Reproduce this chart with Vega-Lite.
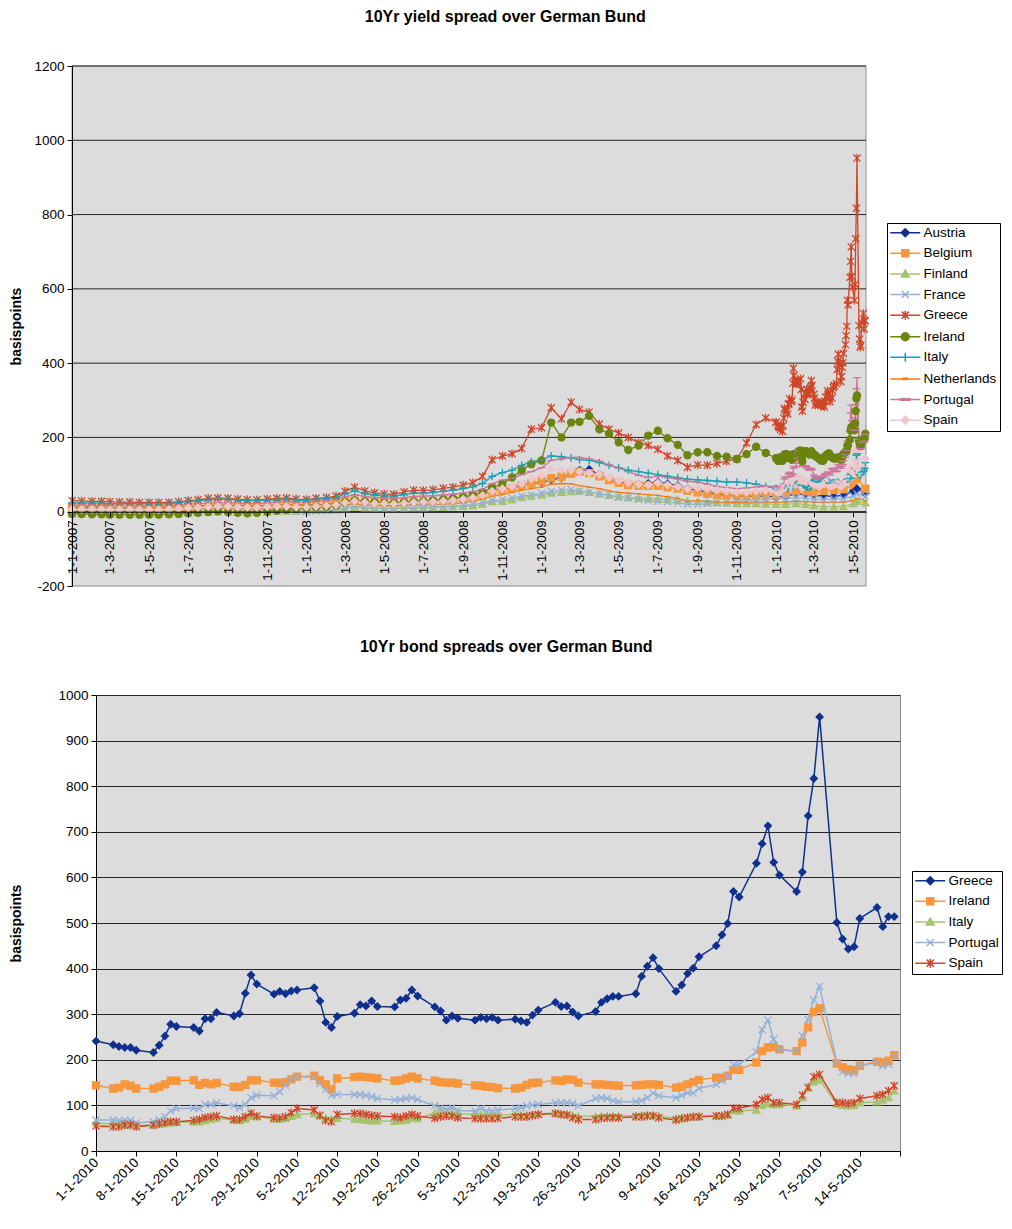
{
  "$schema": "https://vega.github.io/schema/vega-lite/v6.json",
  "background": "white",
  "padding": {"left": 9, "top": 9, "right": 5, "bottom": 0},
  "config": {
    "font": "Liberation Sans",
    "view": {"fill": "#dcdcdc", "stroke": "#8c8c8c", "strokeWidth": 1},
    "axis": {"labelFont": "Liberation Sans", "labelFontSize": 13.5, "labelColor": "#000", "titleFont": "Liberation Sans", "titleFontSize": 14, "titleFontWeight": "bold", "titleColor": "#000", "domainColor": "#000", "tickColor": "#000", "gridColor": "#262626", "gridOpacity": 1, "domainWidth": 1, "tickWidth": 1},
    "axisX": {"labelOverlap": false},
    "title": {"font": "Liberation Sans", "fontSize": 16, "fontWeight": "bold", "color": "#000", "anchor": "middle", "frame": "bounds"},
    "legend": {"symbolSize": 100, "symbolStrokeWidth": 1.5, "symbolOpacity": 1, "symbolOffset": 8.5, "labelOffset": 11.5, "labelFontSize": 13.5, "labelFont": "Liberation Sans", "labelColor": "#000", "rowPadding": 5.6, "padding": 3, "strokeColor": "#000", "fillColor": "#fff", "cornerRadius": 0}
  },
  "datasets": {
    "topNames": [{"country": "Austria"}, {"country": "Belgium"}, {"country": "Finland"}, {"country": "France"}, {"country": "Greece"}, {"country": "Ireland"}, {"country": "Italy"}, {"country": "Netherlands"}, {"country": "Portugal"}, {"country": "Spain"}],
    "botNames": [{"country": "Greece"}, {"country": "Ireland"}, {"country": "Italy"}, {"country": "Portugal"}, {"country": "Spain"}],
    "topGrid": [{"g": 0}, {"g": 200}, {"g": 400}, {"g": 600}, {"g": 800}, {"g": 1000}, {"g": 1200}],
    "top": [
      {"d":"2007-01-01","Austria":12,"Belgium":10,"Finland":-5,"France":4,"Greece":30,"Ireland":-6,"Italy":24,"Netherlands":8,"Portugal":18,"Spain":6},
      {"d":"2007-01-16","Austria":12,"Belgium":10,"Finland":-5,"France":4,"Greece":29,"Ireland":-6,"Italy":24,"Netherlands":8,"Portugal":18,"Spain":6},
      {"d":"2007-02-01","Austria":12,"Belgium":10,"Finland":-5,"France":4,"Greece":28,"Ireland":-7,"Italy":23,"Netherlands":8,"Portugal":17,"Spain":6},
      {"d":"2007-02-16","Austria":12,"Belgium":10,"Finland":-5,"France":4,"Greece":28,"Ireland":-7,"Italy":23,"Netherlands":8,"Portugal":17,"Spain":6},
      {"d":"2007-03-01","Austria":11,"Belgium":10,"Finland":-6,"France":3,"Greece":27,"Ireland":-8,"Italy":22,"Netherlands":7,"Portugal":17,"Spain":5},
      {"d":"2007-03-16","Austria":11,"Belgium":10,"Finland":-6,"France":3,"Greece":26,"Ireland":-8,"Italy":22,"Netherlands":7,"Portugal":17,"Spain":5},
      {"d":"2007-04-01","Austria":11,"Belgium":10,"Finland":-6,"France":3,"Greece":26,"Ireland":-8,"Italy":22,"Netherlands":7,"Portugal":16,"Spain":5},
      {"d":"2007-04-16","Austria":11,"Belgium":10,"Finland":-6,"France":3,"Greece":25,"Ireland":-8,"Italy":22,"Netherlands":7,"Portugal":16,"Spain":5},
      {"d":"2007-05-01","Austria":11,"Belgium":10,"Finland":-6,"France":3,"Greece":25,"Ireland":-8,"Italy":21,"Netherlands":7,"Portugal":16,"Spain":5},
      {"d":"2007-05-16","Austria":11,"Belgium":10,"Finland":-6,"France":3,"Greece":25,"Ireland":-8,"Italy":21,"Netherlands":7,"Portugal":16,"Spain":5},
      {"d":"2007-06-01","Austria":11,"Belgium":10,"Finland":-5,"France":3,"Greece":25,"Ireland":-7,"Italy":22,"Netherlands":7,"Portugal":16,"Spain":6},
      {"d":"2007-06-16","Austria":12,"Belgium":11,"Finland":-4,"France":4,"Greece":27,"Ireland":-6,"Italy":24,"Netherlands":8,"Portugal":18,"Spain":8},
      {"d":"2007-07-01","Austria":13,"Belgium":12,"Finland":-3,"France":5,"Greece":30,"Ireland":-4,"Italy":27,"Netherlands":9,"Portugal":20,"Spain":10},
      {"d":"2007-07-16","Austria":14,"Belgium":13,"Finland":-2,"France":6,"Greece":32,"Ireland":-3,"Italy":29,"Netherlands":10,"Portugal":21,"Spain":11},
      {"d":"2007-08-01","Austria":16,"Belgium":14,"Finland":-1,"France":7,"Greece":36,"Ireland":-1,"Italy":32,"Netherlands":11,"Portugal":23,"Spain":13},
      {"d":"2007-08-16","Austria":17,"Belgium":15,"Finland":0,"France":7,"Greece":37,"Ireland":1,"Italy":33,"Netherlands":11,"Portugal":24,"Spain":14},
      {"d":"2007-09-01","Austria":17,"Belgium":15,"Finland":0,"France":7,"Greece":36,"Ireland":-1,"Italy":33,"Netherlands":11,"Portugal":24,"Spain":14},
      {"d":"2007-09-16","Austria":16,"Belgium":15,"Finland":-1,"France":6,"Greece":34,"Ireland":-3,"Italy":31,"Netherlands":11,"Portugal":23,"Spain":12},
      {"d":"2007-10-01","Austria":15,"Belgium":14,"Finland":-2,"France":6,"Greece":32,"Ireland":-4,"Italy":30,"Netherlands":10,"Portugal":22,"Spain":11},
      {"d":"2007-10-16","Austria":15,"Belgium":14,"Finland":-1,"France":6,"Greece":32,"Ireland":-3,"Italy":30,"Netherlands":10,"Portugal":22,"Spain":11},
      {"d":"2007-11-01","Austria":16,"Belgium":15,"Finland":0,"France":6,"Greece":34,"Ireland":0,"Italy":31,"Netherlands":11,"Portugal":24,"Spain":13},
      {"d":"2007-11-16","Austria":17,"Belgium":16,"Finland":1,"France":5,"Greece":36,"Ireland":3,"Italy":32,"Netherlands":12,"Portugal":26,"Spain":14},
      {"d":"2007-12-01","Austria":18,"Belgium":17,"Finland":2,"France":3,"Greece":37,"Ireland":6,"Italy":33,"Netherlands":12,"Portugal":27,"Spain":14},
      {"d":"2007-12-16","Austria":18,"Belgium":17,"Finland":2,"France":1,"Greece":34,"Ireland":8,"Italy":31,"Netherlands":11,"Portugal":26,"Spain":12},
      {"d":"2008-01-01","Austria":18,"Belgium":17,"Finland":3,"France":0,"Greece":33,"Ireland":10,"Italy":30,"Netherlands":12,"Portugal":26,"Spain":12},
      {"d":"2008-01-16","Austria":19,"Belgium":18,"Finland":4,"France":1,"Greece":36,"Ireland":12,"Italy":33,"Netherlands":13,"Portugal":28,"Spain":14},
      {"d":"2008-02-01","Austria":20,"Belgium":19,"Finland":5,"France":2,"Greece":38,"Ireland":14,"Italy":35,"Netherlands":14,"Portugal":30,"Spain":16},
      {"d":"2008-02-16","Austria":22,"Belgium":21,"Finland":6,"France":4,"Greece":42,"Ireland":17,"Italy":38,"Netherlands":15,"Portugal":33,"Spain":18},
      {"d":"2008-03-01","Austria":28,"Belgium":27,"Finland":10,"France":10,"Greece":55,"Ireland":25,"Italy":48,"Netherlands":18,"Portugal":40,"Spain":24},
      {"d":"2008-03-16","Austria":32,"Belgium":30,"Finland":12,"France":14,"Greece":66,"Ireland":30,"Italy":56,"Netherlands":20,"Portugal":46,"Spain":28},
      {"d":"2008-04-01","Austria":28,"Belgium":27,"Finland":10,"France":12,"Greece":56,"Ireland":27,"Italy":49,"Netherlands":18,"Portugal":41,"Spain":25},
      {"d":"2008-04-16","Austria":26,"Belgium":25,"Finland":9,"France":10,"Greece":51,"Ireland":25,"Italy":45,"Netherlands":17,"Portugal":38,"Spain":22},
      {"d":"2008-05-01","Austria":25,"Belgium":24,"Finland":9,"France":9,"Greece":48,"Ireland":24,"Italy":43,"Netherlands":16,"Portugal":37,"Spain":22},
      {"d":"2008-05-16","Austria":24,"Belgium":23,"Finland":8,"France":9,"Greece":47,"Ireland":23,"Italy":42,"Netherlands":16,"Portugal":36,"Spain":21},
      {"d":"2008-06-01","Austria":26,"Belgium":25,"Finland":9,"France":10,"Greece":53,"Ireland":25,"Italy":46,"Netherlands":17,"Portugal":38,"Spain":23},
      {"d":"2008-06-16","Austria":28,"Belgium":27,"Finland":10,"France":12,"Greece":58,"Ireland":27,"Italy":50,"Netherlands":18,"Portugal":41,"Spain":25},
      {"d":"2008-07-01","Austria":28,"Belgium":27,"Finland":10,"France":12,"Greece":57,"Ireland":28,"Italy":50,"Netherlands":18,"Portugal":42,"Spain":26},
      {"d":"2008-07-16","Austria":29,"Belgium":28,"Finland":11,"France":13,"Greece":59,"Ireland":30,"Italy":52,"Netherlands":19,"Portugal":43,"Spain":27},
      {"d":"2008-08-01","Austria":31,"Belgium":30,"Finland":12,"France":14,"Greece":63,"Ireland":33,"Italy":55,"Netherlands":20,"Portugal":45,"Spain":29},
      {"d":"2008-08-16","Austria":32,"Belgium":31,"Finland":13,"France":15,"Greece":66,"Ireland":36,"Italy":58,"Netherlands":22,"Portugal":47,"Spain":31},
      {"d":"2008-09-01","Austria":34,"Belgium":33,"Finland":14,"France":17,"Greece":72,"Ireland":40,"Italy":62,"Netherlands":25,"Portugal":50,"Spain":34},
      {"d":"2008-09-16","Austria":38,"Belgium":37,"Finland":16,"France":20,"Greece":78,"Ireland":45,"Italy":67,"Netherlands":29,"Portugal":54,"Spain":38},
      {"d":"2008-10-01","Austria":45,"Belgium":44,"Finland":20,"France":24,"Greece":95,"Ireland":52,"Italy":76,"Netherlands":34,"Portugal":60,"Spain":44},
      {"d":"2008-10-16","Austria":58,"Belgium":55,"Finland":27,"France":30,"Greece":140,"Ireland":65,"Italy":95,"Netherlands":42,"Portugal":75,"Spain":55},
      {"d":"2008-11-01","Austria":62,"Belgium":58,"Finland":28,"France":32,"Greece":150,"Ireland":75,"Italy":105,"Netherlands":46,"Portugal":85,"Spain":62},
      {"d":"2008-11-16","Austria":66,"Belgium":62,"Finland":32,"France":36,"Greece":156,"Ireland":92,"Italy":112,"Netherlands":52,"Portugal":90,"Spain":68},
      {"d":"2008-12-01","Austria":72,"Belgium":70,"Finland":38,"France":42,"Greece":170,"Ireland":112,"Italy":125,"Netherlands":58,"Portugal":100,"Spain":75},
      {"d":"2008-12-16","Austria":76,"Belgium":76,"Finland":42,"France":46,"Greece":222,"Ireland":128,"Italy":135,"Netherlands":62,"Portugal":108,"Spain":88},
      {"d":"2009-01-01","Austria":80,"Belgium":82,"Finland":45,"France":50,"Greece":226,"Ireland":138,"Italy":140,"Netherlands":66,"Portugal":118,"Spain":98},
      {"d":"2009-01-16","Austria":86,"Belgium":90,"Finland":50,"France":55,"Greece":280,"Ireland":240,"Italy":150,"Netherlands":74,"Portugal":138,"Spain":115},
      {"d":"2009-02-01","Austria":92,"Belgium":94,"Finland":52,"France":58,"Greece":250,"Ireland":200,"Italy":148,"Netherlands":76,"Portugal":142,"Spain":112},
      {"d":"2009-02-16","Austria":102,"Belgium":102,"Finland":54,"France":60,"Greece":295,"Ireland":240,"Italy":145,"Netherlands":75,"Portugal":146,"Spain":112},
      {"d":"2009-03-01","Austria":112,"Belgium":108,"Finland":55,"France":55,"Greece":275,"Ireland":242,"Italy":140,"Netherlands":70,"Portugal":146,"Spain":108},
      {"d":"2009-03-16","Austria":114,"Belgium":104,"Finland":52,"France":52,"Greece":268,"Ireland":258,"Italy":138,"Netherlands":66,"Portugal":142,"Spain":104},
      {"d":"2009-04-01","Austria":100,"Belgium":95,"Finland":48,"France":48,"Greece":236,"Ireland":222,"Italy":132,"Netherlands":62,"Portugal":136,"Spain":100},
      {"d":"2009-04-16","Austria":90,"Belgium":85,"Finland":44,"France":44,"Greece":222,"Ireland":210,"Italy":125,"Netherlands":56,"Portugal":126,"Spain":92},
      {"d":"2009-05-01","Austria":82,"Belgium":78,"Finland":40,"France":40,"Greece":212,"Ireland":187,"Italy":118,"Netherlands":52,"Portugal":118,"Spain":84},
      {"d":"2009-05-16","Austria":76,"Belgium":72,"Finland":38,"France":37,"Greece":200,"Ireland":166,"Italy":112,"Netherlands":50,"Portugal":108,"Spain":78},
      {"d":"2009-06-01","Austria":74,"Belgium":70,"Finland":36,"France":33,"Greece":186,"Ireland":178,"Italy":108,"Netherlands":48,"Portugal":98,"Spain":74},
      {"d":"2009-06-16","Austria":76,"Belgium":70,"Finland":35,"France":30,"Greece":178,"Ireland":205,"Italy":104,"Netherlands":46,"Portugal":92,"Spain":72},
      {"d":"2009-07-01","Austria":80,"Belgium":70,"Finland":34,"France":28,"Greece":168,"Ireland":218,"Italy":100,"Netherlands":44,"Portugal":96,"Spain":78},
      {"d":"2009-07-16","Austria":75,"Belgium":66,"Finland":33,"France":26,"Greece":150,"Ireland":198,"Italy":96,"Netherlands":40,"Portugal":92,"Spain":72},
      {"d":"2009-08-01","Austria":70,"Belgium":62,"Finland":32,"France":24,"Greece":138,"Ireland":180,"Italy":92,"Netherlands":36,"Portugal":88,"Spain":68},
      {"d":"2009-08-16","Austria":62,"Belgium":56,"Finland":30,"France":20,"Greece":120,"Ireland":152,"Italy":88,"Netherlands":28,"Portugal":82,"Spain":62},
      {"d":"2009-09-01","Austria":58,"Belgium":52,"Finland":28,"France":20,"Greece":126,"Ireland":160,"Italy":86,"Netherlands":30,"Portugal":80,"Spain":64},
      {"d":"2009-09-16","Austria":52,"Belgium":48,"Finland":26,"France":22,"Greece":125,"Ireland":160,"Italy":84,"Netherlands":28,"Portugal":74,"Spain":62},
      {"d":"2009-10-01","Austria":48,"Belgium":45,"Finland":25,"France":24,"Greece":130,"Ireland":150,"Italy":82,"Netherlands":26,"Portugal":68,"Spain":58},
      {"d":"2009-10-16","Austria":45,"Belgium":44,"Finland":24,"France":26,"Greece":136,"Ireland":148,"Italy":80,"Netherlands":25,"Portugal":65,"Spain":55},
      {"d":"2009-11-01","Austria":42,"Belgium":42,"Finland":22,"France":28,"Greece":142,"Ireland":142,"Italy":80,"Netherlands":25,"Portugal":62,"Spain":52},
      {"d":"2009-11-16","Austria":42,"Belgium":42,"Finland":22,"France":30,"Greece":185,"Ireland":155,"Italy":78,"Netherlands":25,"Portugal":64,"Spain":52},
      {"d":"2009-12-01","Austria":42,"Belgium":44,"Finland":22,"France":32,"Greece":235,"Ireland":175,"Italy":74,"Netherlands":26,"Portugal":66,"Spain":55},
      {"d":"2009-12-16","Austria":42,"Belgium":46,"Finland":21,"France":34,"Greece":252,"Ireland":158,"Italy":68,"Netherlands":26,"Portugal":68,"Spain":57},
      {"d":"2010-01-01","Austria":40,"Belgium":45,"Finland":20,"France":34,"Greece":241,"Ireland":144,"Italy":62,"Netherlands":25,"Portugal":68,"Spain":55},
      {"d":"2010-01-16","Austria":42,"Belgium":48,"Finland":20,"France":35,"Netherlands":26},
      {"d":"2010-02-01","Austria":48,"Belgium":55,"Finland":22,"France":38,"Netherlands":28},
      {"d":"2010-02-16","Austria":46,"Belgium":55,"Finland":20,"France":36,"Netherlands":27},
      {"d":"2010-03-01","Austria":44,"Belgium":52,"Finland":16,"France":34,"Netherlands":26},
      {"d":"2010-03-16","Austria":42,"Belgium":56,"Finland":13,"France":33,"Netherlands":25},
      {"d":"2010-04-01","Austria":42,"Belgium":58,"Finland":13,"France":34,"Netherlands":25},
      {"d":"2010-04-16","Austria":44,"Belgium":60,"Finland":14,"France":35,"Netherlands":26},
      {"d":"2010-05-01","Austria":55,"Belgium":72,"Finland":22,"France":42,"Netherlands":30},
      {"d":"2010-05-07","Austria":62,"Belgium":88,"Finland":28,"France":48,"Netherlands":35},
      {"d":"2010-05-20","Austria":50,"Belgium":62,"Finland":24,"France":42,"Netherlands":30}
    ],
    "bot": [
      {"d":"2010-01-01","Greece":241,"Ireland":144,"Italy":62,"Portugal":68,"Spain":55},
      {"d":"2010-01-04","Greece":233,"Ireland":137,"Italy":58,"Portugal":68,"Spain":53},
      {"d":"2010-01-05","Greece":229,"Ireland":139,"Italy":58,"Portugal":67,"Spain":53},
      {"d":"2010-01-06","Greece":227,"Ireland":146,"Italy":57,"Portugal":67,"Spain":57},
      {"d":"2010-01-07","Greece":227,"Ireland":143,"Italy":58,"Portugal":67,"Spain":57},
      {"d":"2010-01-08","Greece":221,"Ireland":137,"Italy":56,"Portugal":62,"Spain":53},
      {"d":"2010-01-11","Greece":216,"Ireland":137,"Italy":57,"Portugal":64,"Spain":57},
      {"d":"2010-01-12","Greece":232,"Ireland":141,"Italy":59,"Portugal":68,"Spain":60},
      {"d":"2010-01-13","Greece":252,"Ireland":146,"Italy":60,"Portugal":75,"Spain":62},
      {"d":"2010-01-14","Greece":278,"Ireland":154,"Italy":62,"Portugal":88,"Spain":64},
      {"d":"2010-01-15","Greece":273,"Ireland":154,"Italy":63,"Portugal":93,"Spain":64},
      {"d":"2010-01-18","Greece":271,"Ireland":155,"Italy":64,"Portugal":94,"Spain":67},
      {"d":"2010-01-19","Greece":263,"Ireland":145,"Italy":64,"Portugal":93,"Spain":69},
      {"d":"2010-01-20","Greece":290,"Ireland":149,"Italy":67,"Portugal":102,"Spain":73},
      {"d":"2010-01-21","Greece":290,"Ireland":146,"Italy":70,"Portugal":102,"Spain":75},
      {"d":"2010-01-22","Greece":304,"Ireland":149,"Italy":72,"Portugal":106,"Spain":77},
      {"d":"2010-01-25","Greece":296,"Ireland":141,"Italy":68,"Portugal":99,"Spain":69},
      {"d":"2010-01-26","Greece":301,"Ireland":140,"Italy":67,"Portugal":95,"Spain":69},
      {"d":"2010-01-27","Greece":346,"Ireland":145,"Italy":70,"Portugal":102,"Spain":75},
      {"d":"2010-01-28","Greece":386,"Ireland":155,"Italy":76,"Portugal":117,"Spain":83},
      {"d":"2010-01-29","Greece":366,"Ireland":155,"Italy":75,"Portugal":122,"Spain":77},
      {"d":"2010-02-01","Greece":344,"Ireland":150,"Italy":70,"Portugal":121,"Spain":73},
      {"d":"2010-02-02","Greece":350,"Ireland":149,"Italy":70,"Portugal":130,"Spain":72},
      {"d":"2010-02-03","Greece":345,"Ireland":151,"Italy":72,"Portugal":144,"Spain":75},
      {"d":"2010-02-04","Greece":351,"Ireland":157,"Italy":76,"Portugal":157,"Spain":84},
      {"d":"2010-02-05","Greece":353,"Ireland":163,"Italy":80,"Portugal":163,"Spain":93},
      {"d":"2010-02-08","Greece":358,"Ireland":165,"Italy":82,"Portugal":162,"Spain":90},
      {"d":"2010-02-09","Greece":329,"Ireland":156,"Italy":78,"Portugal":148,"Spain":78},
      {"d":"2010-02-10","Greece":282,"Ireland":146,"Italy":72,"Portugal":135,"Spain":67},
      {"d":"2010-02-11","Greece":271,"Ireland":135,"Italy":70,"Portugal":122,"Spain":64},
      {"d":"2010-02-12","Greece":295,"Ireland":159,"Italy":72,"Portugal":124,"Spain":80},
      {"d":"2010-02-15","Greece":302,"Ireland":162,"Italy":70,"Portugal":124,"Spain":82},
      {"d":"2010-02-16","Greece":321,"Ireland":163,"Italy":69,"Portugal":124,"Spain":82},
      {"d":"2010-02-17","Greece":318,"Ireland":162,"Italy":68,"Portugal":122,"Spain":80},
      {"d":"2010-02-18","Greece":329,"Ireland":161,"Italy":66,"Portugal":119,"Spain":78},
      {"d":"2010-02-19","Greece":317,"Ireland":159,"Italy":66,"Portugal":115,"Spain":77},
      {"d":"2010-02-22","Greece":316,"Ireland":154,"Italy":65,"Portugal":112,"Spain":75},
      {"d":"2010-02-23","Greece":331,"Ireland":155,"Italy":66,"Portugal":113,"Spain":73},
      {"d":"2010-02-24","Greece":335,"Ireland":159,"Italy":68,"Portugal":115,"Spain":77},
      {"d":"2010-02-25","Greece":353,"Ireland":163,"Italy":72,"Portugal":117,"Spain":80},
      {"d":"2010-02-26","Greece":340,"Ireland":159,"Italy":71,"Portugal":113,"Spain":77},
      {"d":"2010-03-01","Greece":316,"Ireland":154,"Italy":84,"Portugal":99,"Spain":72},
      {"d":"2010-03-02","Greece":307,"Ireland":151,"Italy":86,"Portugal":95,"Spain":75},
      {"d":"2010-03-03","Greece":287,"Ireland":150,"Italy":85,"Portugal":91,"Spain":77},
      {"d":"2010-03-04","Greece":296,"Ireland":150,"Italy":84,"Portugal":95,"Spain":77},
      {"d":"2010-03-05","Greece":291,"Ireland":148,"Italy":82,"Portugal":89,"Spain":73},
      {"d":"2010-03-08","Greece":287,"Ireland":144,"Italy":80,"Portugal":88,"Spain":71},
      {"d":"2010-03-09","Greece":293,"Ireland":143,"Italy":80,"Portugal":93,"Spain":71},
      {"d":"2010-03-10","Greece":290,"Ireland":141,"Italy":79,"Portugal":88,"Spain":71},
      {"d":"2010-03-11","Greece":293,"Ireland":140,"Italy":80,"Portugal":88,"Spain":71},
      {"d":"2010-03-12","Greece":287,"Ireland":138,"Italy":79,"Portugal":90,"Spain":72},
      {"d":"2010-03-15","Greece":289,"Ireland":137,"Italy":80,"Portugal":93,"Spain":75},
      {"d":"2010-03-16","Greece":285,"Ireland":139,"Italy":80,"Portugal":95,"Spain":75},
      {"d":"2010-03-17","Greece":282,"Ireland":145,"Italy":80,"Portugal":99,"Spain":75},
      {"d":"2010-03-18","Greece":298,"Ireland":149,"Italy":81,"Portugal":101,"Spain":78},
      {"d":"2010-03-19","Greece":309,"Ireland":150,"Italy":82,"Portugal":102,"Spain":80},
      {"d":"2010-03-22","Greece":326,"Ireland":155,"Italy":83,"Portugal":106,"Spain":82},
      {"d":"2010-03-23","Greece":317,"Ireland":154,"Italy":82,"Portugal":106,"Spain":80},
      {"d":"2010-03-24","Greece":318,"Ireland":157,"Italy":80,"Portugal":106,"Spain":79},
      {"d":"2010-03-25","Greece":305,"Ireland":156,"Italy":78,"Portugal":104,"Spain":73},
      {"d":"2010-03-26","Greece":296,"Ireland":150,"Italy":76,"Portugal":99,"Spain":69},
      {"d":"2010-03-29","Greece":306,"Ireland":146,"Italy":76,"Portugal":115,"Spain":69},
      {"d":"2010-03-30","Greece":326,"Ireland":146,"Italy":77,"Portugal":117,"Spain":72},
      {"d":"2010-03-31","Greece":334,"Ireland":145,"Italy":77,"Portugal":115,"Spain":73},
      {"d":"2010-04-01","Greece":339,"Ireland":144,"Italy":77,"Portugal":110,"Spain":73},
      {"d":"2010-04-02","Greece":339,"Ireland":143,"Italy":77,"Portugal":108,"Spain":73},
      {"d":"2010-04-05","Greece":345,"Ireland":144,"Italy":78,"Portugal":108,"Spain":75},
      {"d":"2010-04-06","Greece":383,"Ireland":145,"Italy":78,"Portugal":110,"Spain":75},
      {"d":"2010-04-07","Greece":405,"Ireland":146,"Italy":79,"Portugal":117,"Spain":77},
      {"d":"2010-04-08","Greece":424,"Ireland":146,"Italy":79,"Portugal":127,"Spain":77},
      {"d":"2010-04-09","Greece":400,"Ireland":145,"Italy":77,"Portugal":121,"Spain":73},
      {"d":"2010-04-12","Greece":350,"Ireland":139,"Italy":72,"Portugal":117,"Spain":68},
      {"d":"2010-04-13","Greece":364,"Ireland":141,"Italy":73,"Portugal":122,"Spain":71},
      {"d":"2010-04-14","Greece":389,"Ireland":146,"Italy":74,"Portugal":128,"Spain":73},
      {"d":"2010-04-15","Greece":401,"Ireland":151,"Italy":75,"Portugal":127,"Spain":75},
      {"d":"2010-04-16","Greece":426,"Ireland":156,"Italy":76,"Portugal":137,"Spain":75},
      {"d":"2010-04-19","Greece":450,"Ireland":161,"Italy":77,"Portugal":146,"Spain":77},
      {"d":"2010-04-20","Greece":474,"Ireland":161,"Italy":77,"Portugal":154,"Spain":77},
      {"d":"2010-04-21","Greece":499,"Ireland":165,"Italy":79,"Portugal":165,"Spain":80},
      {"d":"2010-04-22","Greece":569,"Ireland":178,"Italy":88,"Portugal":189,"Spain":94},
      {"d":"2010-04-23","Greece":557,"Ireland":178,"Italy":88,"Portugal":190,"Spain":94},
      {"d":"2010-04-26","Greece":631,"Ireland":194,"Italy":90,"Portugal":217,"Spain":102},
      {"d":"2010-04-27","Greece":674,"Ireland":219,"Italy":100,"Portugal":266,"Spain":113},
      {"d":"2010-04-28","Greece":713,"Ireland":227,"Italy":104,"Portugal":287,"Spain":117},
      {"d":"2010-04-29","Greece":633,"Ireland":228,"Italy":102,"Portugal":245,"Spain":106},
      {"d":"2010-04-30","Greece":605,"Ireland":223,"Italy":102,"Portugal":222,"Spain":106},
      {"d":"2010-05-03","Greece":569,"Ireland":219,"Italy":99,"Portugal":219,"Spain":102},
      {"d":"2010-05-04","Greece":612,"Ireland":238,"Italy":117,"Portugal":252,"Spain":122},
      {"d":"2010-05-05","Greece":735,"Ireland":271,"Italy":139,"Portugal":289,"Spain":139},
      {"d":"2010-05-06","Greece":817,"Ireland":305,"Italy":152,"Portugal":331,"Spain":163},
      {"d":"2010-05-07","Greece":952,"Ireland":313,"Italy":156,"Portugal":361,"Spain":168},
      {"d":"2010-05-10","Greece":501,"Ireland":192,"Italy":103,"Portugal":194,"Spain":106},
      {"d":"2010-05-11","Greece":465,"Ireland":184,"Italy":100,"Portugal":174,"Spain":106},
      {"d":"2010-05-12","Greece":443,"Ireland":179,"Italy":99,"Portugal":170,"Spain":104},
      {"d":"2010-05-13","Greece":448,"Ireland":177,"Italy":100,"Portugal":170,"Spain":106},
      {"d":"2010-05-14","Greece":510,"Ireland":187,"Italy":106,"Portugal":187,"Spain":115},
      {"d":"2010-05-17","Greece":534,"Ireland":196,"Italy":108,"Portugal":194,"Spain":121},
      {"d":"2010-05-18","Greece":492,"Ireland":194,"Italy":112,"Portugal":187,"Spain":124},
      {"d":"2010-05-19","Greece":514,"Ireland":198,"Italy":117,"Portugal":190,"Spain":132},
      {"d":"2010-05-20","Greece":514,"Ireland":210,"Italy":132,"Portugal":208,"Spain":143}
    ]
  },
  "spacing": 45,
  "columns": 1,
  "resolve": {"scale": {"color": "independent", "shape": "independent", "fill": "independent", "stroke": "independent"}},
  "concat": [
    {
      "width": 770,
      "height": 520,
      "view": {"fill": null, "stroke": null},
      "title": {"text": "10Yr yield spread over German Bund", "offset": 34},
      "resolve": {"scale": {"shape": "independent", "fill": "independent", "stroke": "independent"}},
      "layer": [
        {
          "data": {"values": [{}]},
          "mark": {"type": "rect", "fill": "#dcdcdc", "stroke": "#8c8c8c", "strokeWidth": 1},
          "encoding": {
            "x": {"datum": {"year": 2007, "month": 1, "date": 1, "utc": true}, "type": "temporal",
              "scale": {"type": "utc", "domain": [{"year": 2007, "month": 1, "date": 1, "utc": true}, {"year": 2010, "month": 5, "date": 21, "utc": true}], "range": [-24, 770]},
              "axis": {"title": null, "grid": false, "zindex": 1, "format": "%-d-%-m-%Y", "labelAngle": -90, "labelAlign": "right", "labelBaseline": "middle", "offset": -74.3, "tickSize": 5, "labelPadding": 3, "labelFlush": false, "labelOverlap": false, "labelBound": false,
                "values": [
                  {"year": 2007, "month": 1, "date": 1, "utc": true}, {"year": 2007, "month": 3, "date": 1, "utc": true}, {"year": 2007, "month": 5, "date": 1, "utc": true}, {"year": 2007, "month": 7, "date": 1, "utc": true}, {"year": 2007, "month": 9, "date": 1, "utc": true}, {"year": 2007, "month": 11, "date": 1, "utc": true},
                  {"year": 2008, "month": 1, "date": 1, "utc": true}, {"year": 2008, "month": 3, "date": 1, "utc": true}, {"year": 2008, "month": 5, "date": 1, "utc": true}, {"year": 2008, "month": 7, "date": 1, "utc": true}, {"year": 2008, "month": 9, "date": 1, "utc": true}, {"year": 2008, "month": 11, "date": 1, "utc": true},
                  {"year": 2009, "month": 1, "date": 1, "utc": true}, {"year": 2009, "month": 3, "date": 1, "utc": true}, {"year": 2009, "month": 5, "date": 1, "utc": true}, {"year": 2009, "month": 7, "date": 1, "utc": true}, {"year": 2009, "month": 9, "date": 1, "utc": true}, {"year": 2009, "month": 11, "date": 1, "utc": true},
                  {"year": 2010, "month": 1, "date": 1, "utc": true}, {"year": 2010, "month": 3, "date": 1, "utc": true}, {"year": 2010, "month": 5, "date": 1, "utc": true}
                ]}},
            "x2": {"datum": {"year": 2010, "month": 5, "date": 21, "utc": true}},
            "y": {"datum": -200, "type": "quantitative",
              "scale": {"domain": [-200, 1200], "nice": false},
              "axis": {"title": "basispoints", "grid": false, "zindex": 1, "offset": 24, "labelExpr": "'' + datum.value", "values": [-200, 0, 200, 400, 600, 800, 1000, 1200], "titlePadding": 10, "tickSize": 5, "labelPadding": 3}},
            "y2": {"datum": 1200}
          }
        },
        {
          "data": {"name": "topGrid"},
          "mark": {"type": "rule", "color": "#262626", "strokeWidth": 1},
          "encoding": {
            "x": {"datum": {"year": 2007, "month": 1, "date": 1, "utc": true}, "type": "temporal",
              "axis": {"title": null, "grid": false, "zindex": 1, "format": "%-d-%-m-%Y", "labelAngle": -90, "labelAlign": "right", "labelBaseline": "middle", "offset": -74.3, "tickSize": 5, "labelPadding": 3, "labelFlush": false, "labelOverlap": false, "labelBound": false,
                "values": [
                  {"year": 2007, "month": 1, "date": 1, "utc": true}, {"year": 2007, "month": 3, "date": 1, "utc": true}, {"year": 2007, "month": 5, "date": 1, "utc": true}, {"year": 2007, "month": 7, "date": 1, "utc": true}, {"year": 2007, "month": 9, "date": 1, "utc": true}, {"year": 2007, "month": 11, "date": 1, "utc": true},
                  {"year": 2008, "month": 1, "date": 1, "utc": true}, {"year": 2008, "month": 3, "date": 1, "utc": true}, {"year": 2008, "month": 5, "date": 1, "utc": true}, {"year": 2008, "month": 7, "date": 1, "utc": true}, {"year": 2008, "month": 9, "date": 1, "utc": true}, {"year": 2008, "month": 11, "date": 1, "utc": true},
                  {"year": 2009, "month": 1, "date": 1, "utc": true}, {"year": 2009, "month": 3, "date": 1, "utc": true}, {"year": 2009, "month": 5, "date": 1, "utc": true}, {"year": 2009, "month": 7, "date": 1, "utc": true}, {"year": 2009, "month": 9, "date": 1, "utc": true}, {"year": 2009, "month": 11, "date": 1, "utc": true},
                  {"year": 2010, "month": 1, "date": 1, "utc": true}, {"year": 2010, "month": 3, "date": 1, "utc": true}, {"year": 2010, "month": 5, "date": 1, "utc": true}
                ]}},
            "x2": {"datum": {"year": 2010, "month": 5, "date": 21, "utc": true}},
            "y": {"field": "g", "type": "quantitative",
              "axis": {"title": "basispoints", "grid": false, "zindex": 1, "offset": 24, "labelExpr": "'' + datum.value", "values": [-200, 0, 200, 400, 600, 800, 1000, 1200], "titlePadding": 10, "tickSize": 5, "labelPadding": 3}}
          }
        },
        {
          "data": {"name": "top"},
          "transform": [
            {"fold": ["Austria", "Belgium", "Finland", "France", "Greece", "Ireland", "Italy", "Netherlands", "Portugal", "Spain"], "as": ["country", "value"]},
            {"filter": "isValid(datum.value)"}
          ],
          "encoding": {
            "x": {"field": "d", "type": "temporal",
              "axis": {"title": null, "grid": false, "zindex": 1, "format": "%-d-%-m-%Y", "labelAngle": -90, "labelAlign": "right", "labelBaseline": "middle", "offset": -74.3, "tickSize": 5, "labelPadding": 3, "labelFlush": false, "labelOverlap": false, "labelBound": false,
                "values": [
                  {"year": 2007, "month": 1, "date": 1, "utc": true}, {"year": 2007, "month": 3, "date": 1, "utc": true}, {"year": 2007, "month": 5, "date": 1, "utc": true}, {"year": 2007, "month": 7, "date": 1, "utc": true}, {"year": 2007, "month": 9, "date": 1, "utc": true}, {"year": 2007, "month": 11, "date": 1, "utc": true},
                  {"year": 2008, "month": 1, "date": 1, "utc": true}, {"year": 2008, "month": 3, "date": 1, "utc": true}, {"year": 2008, "month": 5, "date": 1, "utc": true}, {"year": 2008, "month": 7, "date": 1, "utc": true}, {"year": 2008, "month": 9, "date": 1, "utc": true}, {"year": 2008, "month": 11, "date": 1, "utc": true},
                  {"year": 2009, "month": 1, "date": 1, "utc": true}, {"year": 2009, "month": 3, "date": 1, "utc": true}, {"year": 2009, "month": 5, "date": 1, "utc": true}, {"year": 2009, "month": 7, "date": 1, "utc": true}, {"year": 2009, "month": 9, "date": 1, "utc": true}, {"year": 2009, "month": 11, "date": 1, "utc": true},
                  {"year": 2010, "month": 1, "date": 1, "utc": true}, {"year": 2010, "month": 3, "date": 1, "utc": true}, {"year": 2010, "month": 5, "date": 1, "utc": true}
                ]}},
            "y": {"field": "value", "type": "quantitative",
              "axis": {"title": "basispoints", "grid": false, "zindex": 1, "offset": 24, "labelExpr": "'' + datum.value", "values": [-200, 0, 200, 400, 600, 800, 1000, 1200], "titlePadding": 10, "tickSize": 5, "labelPadding": 3}},
            "color": {"field": "country", "type": "nominal",
              "scale": {"domain": ["Austria", "Belgium", "Finland", "France", "Greece", "Ireland", "Italy", "Netherlands", "Portugal", "Spain"], "range": ["#10308f", "#f7963c", "#a6c46d", "#93b0d8", "#d04526", "#6b8410", "#19a2b6", "#f47a10", "#cc7799", "#efc6cb"]},
              "legend": null}
          },
          "layer": [
            {"mark": {"type": "line", "strokeWidth": 1.3}},
            {"mark": {"type": "point", "filled": true, "size": 50, "opacity": 1, "strokeWidth": 1.3},
              "encoding": {
                "shape": {"field": "country", "type": "nominal", "legend": null,
                  "scale": {"domain": ["Austria", "Belgium", "Finland", "France", "Greece", "Ireland", "Italy", "Netherlands", "Portugal", "Spain"],
                    "range": ["diamond", "square", "triangle-up", "M-1,-1L1,1M-1,1L1,-1", "M-1,-1L1,1M-1,1L1,-1M0,-1.2V1.2", "circle", "M-1.1,0H1.1M0,-1.1V1.1", "M-0.6,0H0.6", "M-1.1,0H1.1", "diamond"]}},
                "stroke": {"field": "country", "type": "nominal", "legend": null,
                  "scale": {"domain": ["Austria", "Belgium", "Finland", "France", "Greece", "Ireland", "Italy", "Netherlands", "Portugal", "Spain"], "range": ["#10308f", "#f7963c", "#a6c46d", "#93b0d8", "#d04526", "#6b8410", "#19a2b6", "#f47a10", "#cc7799", "#efc6cb"]}}
              }}
          ]
        },
        {
          "data": {"name": "bot"},
          "transform": [
            {"fold": ["Greece", "Ireland", "Italy", "Portugal", "Spain"], "as": ["country", "value"]},
            {"filter": "isValid(datum.value)"}
          ],
          "encoding": {
            "x": {"field": "d", "type": "temporal",
              "axis": {"title": null, "grid": false, "zindex": 1, "format": "%-d-%-m-%Y", "labelAngle": -90, "labelAlign": "right", "labelBaseline": "middle", "offset": -74.3, "tickSize": 5, "labelPadding": 3, "labelFlush": false, "labelOverlap": false, "labelBound": false,
                "values": [
                  {"year": 2007, "month": 1, "date": 1, "utc": true}, {"year": 2007, "month": 3, "date": 1, "utc": true}, {"year": 2007, "month": 5, "date": 1, "utc": true}, {"year": 2007, "month": 7, "date": 1, "utc": true}, {"year": 2007, "month": 9, "date": 1, "utc": true}, {"year": 2007, "month": 11, "date": 1, "utc": true},
                  {"year": 2008, "month": 1, "date": 1, "utc": true}, {"year": 2008, "month": 3, "date": 1, "utc": true}, {"year": 2008, "month": 5, "date": 1, "utc": true}, {"year": 2008, "month": 7, "date": 1, "utc": true}, {"year": 2008, "month": 9, "date": 1, "utc": true}, {"year": 2008, "month": 11, "date": 1, "utc": true},
                  {"year": 2009, "month": 1, "date": 1, "utc": true}, {"year": 2009, "month": 3, "date": 1, "utc": true}, {"year": 2009, "month": 5, "date": 1, "utc": true}, {"year": 2009, "month": 7, "date": 1, "utc": true}, {"year": 2009, "month": 9, "date": 1, "utc": true}, {"year": 2009, "month": 11, "date": 1, "utc": true},
                  {"year": 2010, "month": 1, "date": 1, "utc": true}, {"year": 2010, "month": 3, "date": 1, "utc": true}, {"year": 2010, "month": 5, "date": 1, "utc": true}
                ]}},
            "y": {"field": "value", "type": "quantitative",
              "axis": {"title": "basispoints", "grid": false, "zindex": 1, "offset": 24, "labelExpr": "'' + datum.value", "values": [-200, 0, 200, 400, 600, 800, 1000, 1200], "titlePadding": 10, "tickSize": 5, "labelPadding": 3}},
            "color": {"field": "country", "type": "nominal", "legend": null}
          },
          "layer": [
            {"mark": {"type": "line", "strokeWidth": 1.3}},
            {"mark": {"type": "point", "filled": true, "size": 50, "opacity": 1, "strokeWidth": 1.3},
              "encoding": {
                "shape": {"field": "country", "type": "nominal", "legend": null,
                  "scale": {"domain": ["Greece", "Ireland", "Italy", "Portugal", "Spain"],
                    "range": ["M-1,-1L1,1M-1,1L1,-1M0,-1.2V1.2", "circle", "M-1.1,0H1.1M0,-1.1V1.1", "M-1.1,0H1.1", "diamond"]}},
                "stroke": {"field": "country", "type": "nominal", "legend": null,
                  "scale": {"domain": ["Greece", "Ireland", "Italy", "Portugal", "Spain"], "range": ["#d04526", "#6b8410", "#19a2b6", "#cc7799", "#efc6cb"]}}
              }}
          ]
        },
        {
          "data": {"name": "topNames"},
          "mark": {"type": "point", "filled": true, "opacity": 0},
          "encoding": {
            "shape": {"field": "country", "type": "nominal",
              "scale": {"domain": ["Austria", "Belgium", "Finland", "France", "Greece", "Ireland", "Italy", "Netherlands", "Portugal", "Spain"],
                "range": ["M-3,0H3M0,-0.8L0.8,0L0,0.8L-0.8,0Z", "M-3,0H3M-0.7,-0.7H0.7V0.7H-0.7Z", "M-3,0H3M0,-0.8L0.8,0.6L-0.8,0.6Z", "M-3,0H3M-0.7,-0.7L0.7,0.7M-0.7,0.7L0.7,-0.7", "M-3,0H3M-0.7,-0.7L0.7,0.7M-0.7,0.7L0.7,-0.7M0,-0.9V0.9", "M-3,0H3M0.8,0A0.8,0.8,0,1,1,-0.8,0A0.8,0.8,0,1,1,0.8,0Z", "M-3,0H3M0,-0.9V0.9", "M-3,0H3M-0.4,-0.12H0.4V0.12H-0.4Z", "M-3,0H3M-1,-0.15H1V0.15H-1Z", "M-3,0H3M0,-0.8L0.8,0L0,0.8L-0.8,0Z"]},
              "legend": {"title": null, "orient": "none", "legendX": 791, "legendY": 157}},
            "stroke": {"field": "country", "type": "nominal",
              "scale": {"domain": ["Austria", "Belgium", "Finland", "France", "Greece", "Ireland", "Italy", "Netherlands", "Portugal", "Spain"], "range": ["#10308f", "#f7963c", "#a6c46d", "#93b0d8", "#d04526", "#6b8410", "#19a2b6", "#f47a10", "#cc7799", "#efc6cb"]},
              "legend": {"title": null, "orient": "none", "legendX": 791, "legendY": 157}},
            "fill": {"field": "country", "type": "nominal",
              "scale": {"domain": ["Austria", "Belgium", "Finland", "France", "Greece", "Ireland", "Italy", "Netherlands", "Portugal", "Spain"], "range": ["#10308f", "#f7963c", "#a6c46d", "#93b0d8", "#d04526", "#6b8410", "#19a2b6", "#f47a10", "#cc7799", "#efc6cb"]},
              "legend": {"title": null, "orient": "none", "legendX": 791, "legendY": 157}}
          }
        }
      ]
    },
    {
      "width": 804,
      "height": 456,
      "view": {"fill": "#dcdcdc", "stroke": "#8c8c8c"},
      "title": {"text": "10Yr bond spreads over German Bund", "offset": 33},
      "resolve": {"scale": {"shape": "independent", "fill": "independent", "stroke": "independent"}},
      "layer": [
        {
          "data": {"name": "bot"},
          "transform": [
            {"fold": ["Greece", "Ireland", "Italy", "Portugal", "Spain"], "as": ["country", "value"]},
            {"filter": "isValid(datum.value)"}
          ],
          "encoding": {
            "x": {"field": "d", "type": "temporal",
              "scale": {"type": "utc", "domain": [{"year": 2010, "month": 1, "date": 1, "utc": true}, {"year": 2010, "month": 5, "date": 21, "utc": true}]},
              "axis": {"title": null, "grid": false, "format": "%-d-%-m-%Y", "labelAngle": -45, "labelAlign": "right", "labelBaseline": "middle", "tickSize": 5, "labelPadding": 4, "labelFlush": false, "labelOverlap": false,
                "labelExpr": "utcmonth(datum.value) == 4 && utcdate(datum.value) == 21 ? '' : datum.label",
                "values": [
                  {"year": 2010, "month": 1, "date": 1, "utc": true}, {"year": 2010, "month": 1, "date": 8, "utc": true}, {"year": 2010, "month": 1, "date": 15, "utc": true}, {"year": 2010, "month": 1, "date": 22, "utc": true}, {"year": 2010, "month": 1, "date": 29, "utc": true},
                  {"year": 2010, "month": 2, "date": 5, "utc": true}, {"year": 2010, "month": 2, "date": 12, "utc": true}, {"year": 2010, "month": 2, "date": 19, "utc": true}, {"year": 2010, "month": 2, "date": 26, "utc": true},
                  {"year": 2010, "month": 3, "date": 5, "utc": true}, {"year": 2010, "month": 3, "date": 12, "utc": true}, {"year": 2010, "month": 3, "date": 19, "utc": true}, {"year": 2010, "month": 3, "date": 26, "utc": true},
                  {"year": 2010, "month": 4, "date": 2, "utc": true}, {"year": 2010, "month": 4, "date": 9, "utc": true}, {"year": 2010, "month": 4, "date": 16, "utc": true}, {"year": 2010, "month": 4, "date": 23, "utc": true}, {"year": 2010, "month": 4, "date": 30, "utc": true},
                  {"year": 2010, "month": 5, "date": 7, "utc": true}, {"year": 2010, "month": 5, "date": 14, "utc": true}, {"year": 2010, "month": 5, "date": 21, "utc": true}
                ]}},
            "y": {"field": "value", "type": "quantitative",
              "scale": {"domain": [0, 1000], "nice": false},
              "axis": {"title": "basispoints", "labelExpr": "'' + datum.value", "values": [0, 100, 200, 300, 400, 500, 600, 700, 800, 900, 1000], "titlePadding": 34, "tickSize": 5, "labelPadding": 3, "grid": true}},
            "color": {"field": "country", "type": "nominal",
              "scale": {"domain": ["Greece", "Ireland", "Italy", "Portugal", "Spain"], "range": ["#10308f", "#f7963c", "#a6c46d", "#93b0d8", "#d04526"]},
              "legend": null}
          },
          "layer": [
            {"mark": {"type": "line", "strokeWidth": 1.5}},
            {"mark": {"type": "point", "filled": true, "size": 50, "opacity": 1, "strokeWidth": 1.3},
              "encoding": {
                "shape": {"field": "country", "type": "nominal", "legend": null,
                  "scale": {"domain": ["Greece", "Ireland", "Italy", "Portugal", "Spain"],
                    "range": ["diamond", "square", "triangle-up", "M-1,-1L1,1M-1,1L1,-1", "M-1,-1L1,1M-1,1L1,-1M0,-1.2V1.2"]}},
                "stroke": {"field": "country", "type": "nominal", "legend": null,
                  "scale": {"domain": ["Greece", "Ireland", "Italy", "Portugal", "Spain"], "range": ["#10308f", "#f7963c", "#a6c46d", "#93b0d8", "#d04526"]}}
              }}
          ]
        },
        {
          "data": {"name": "botNames"},
          "mark": {"type": "point", "filled": true, "opacity": 0},
          "encoding": {
            "shape": {"field": "country", "type": "nominal",
              "scale": {"domain": ["Greece", "Ireland", "Italy", "Portugal", "Spain"],
                "range": ["M-3,0H3M0,-0.8L0.8,0L0,0.8L-0.8,0Z", "M-3,0H3M-0.7,-0.7H0.7V0.7H-0.7Z", "M-3,0H3M0,-0.8L0.8,0.6L-0.8,0.6Z", "M-3,0H3M-0.7,-0.7L0.7,0.7M-0.7,0.7L0.7,-0.7", "M-3,0H3M-0.7,-0.7L0.7,0.7M-0.7,0.7L0.7,-0.7M0,-0.9V0.9"]},
              "legend": {"title": null, "orient": "none", "legendX": 816, "legendY": 176}},
            "stroke": {"field": "country", "type": "nominal",
              "scale": {"domain": ["Greece", "Ireland", "Italy", "Portugal", "Spain"], "range": ["#10308f", "#f7963c", "#a6c46d", "#93b0d8", "#d04526"]},
              "legend": {"title": null, "orient": "none", "legendX": 816, "legendY": 176}},
            "fill": {"field": "country", "type": "nominal",
              "scale": {"domain": ["Greece", "Ireland", "Italy", "Portugal", "Spain"], "range": ["#10308f", "#f7963c", "#a6c46d", "#93b0d8", "#d04526"]},
              "legend": {"title": null, "orient": "none", "legendX": 816, "legendY": 176}}
          }
        }
      ]
    }
  ]
}
